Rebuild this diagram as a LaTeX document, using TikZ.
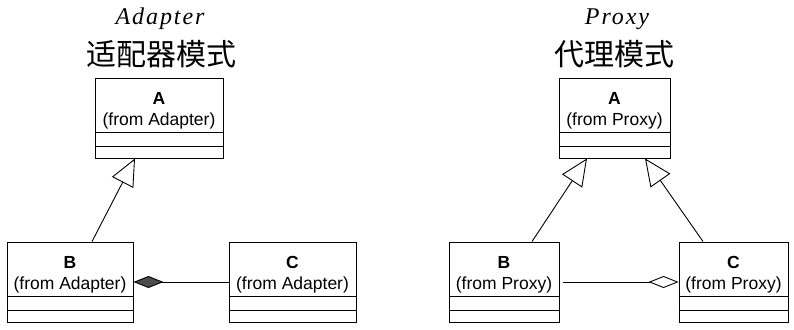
\documentclass[tikz,border=0pt]{standalone}
\usepackage{fontspec}
\setsansfont{Liberation Sans}
\newfontfamily\titlefont[LetterSpace=8]{Liberation Serif}
\newfontfamily\cjk{Noto Sans CJK SC}
\usetikzlibrary{arrows.meta,positioning}

\begin{document}
\begin{tikzpicture}[x=1pt,y=-1pt,line width=0.9pt,
  cls/.style={draw,align=center,inner sep=0pt,minimum height=80pt,
    text height=40pt,text depth=25.5pt,font=\sffamily\fontsize{17.5}{21}\selectfont},
  pattern/.style={font=\titlefont\itshape\fontsize{24}{28}\selectfont},
  zh/.style={font=\cjk\fontsize{30}{34}\selectfont},
  isa/.style={-{Triangle[open,length=27pt,width=24pt]}},
  comp/.style={{Diamond[length=30pt,width=12pt,fill=black!70]}-},
  aggr/.style={-{Diamond[open,length=30pt,width=12pt]}}]
\useasboundingbox (0,0) rectangle (794,329);

% adapter side
\node (adtitle) [pattern] at (160,19) {Adapter};
\node (adzh) [zh] at (161,54) {适配器模式};
\node (la) [cls,minimum width=128pt] at (159,118) {\textbf{A}\\(from Adapter)};
\node (lb) [cls,minimum width=126pt] at (70,282) {\textbf{B}\\(from Adapter)};
\node (lc) [cls,minimum width=127pt] at (292.5,282) {\textbf{C}\\(from Adapter)};

% proxy side
\node (prtitle) [pattern] at (617,19) {Proxy};
\node (przh) [zh] at (614,54) {代理模式};
\node (ra) [cls,minimum width=111pt] at (614.5,118) {\textbf{A}\\(from Proxy)};
\node (rb) [cls,minimum width=110pt] at (504,282) {\textbf{B}\\(from Proxy)};
\node (rc) [cls,minimum width=109pt] at (733.5,282) {\textbf{C}\\(from Proxy)};

% attribute and operation compartments
\foreach \c in {la,lb,lc,ra,rb,rc} {
  \draw ([yshift=26.5pt]\c.south west) -- ([yshift=26.5pt]\c.south east);
  \draw ([yshift=12.5pt]\c.south west) -- ([yshift=12.5pt]\c.south east);
}

\draw[isa] ([xshift=22pt]lb.north) -- ([xshift=-24pt]la.south);
\draw[comp] (lb) -- (lc);
\draw[isa] ([xshift=28pt]rb.north) -- ([xshift=-27.5pt]ra.south);
\draw[isa] ([xshift=-30.5pt]rc.north) -- ([xshift=30.5pt]ra.south);
\draw[aggr,shorten <=4pt] (rb) -- (rc);
\end{tikzpicture}
\end{document}
